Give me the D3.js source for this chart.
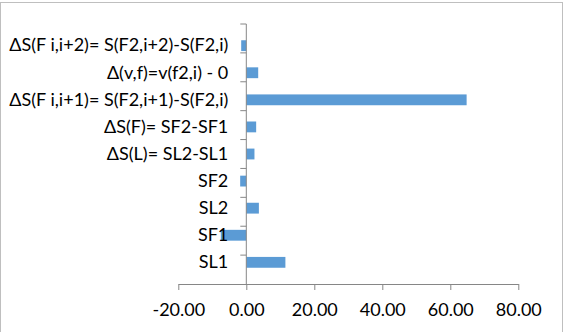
<!DOCTYPE html>
<html><head>
<meta charset="utf-8">
<script src="https://cdnjs.cloudflare.com/ajax/libs/d3/7.8.5/d3.min.js"></script>
<style>
  body { margin: 0; background: #fff; }
  .axis text { font-family: Lato, "Open Sans", sans-serif; font-size: 18px; fill: #000; }
  .axis path, .axis line { stroke: #868686; }
</style>
</head>
<body>
<svg width="568" height="332"></svg>
<script>
// categories bottom -> top, as in the chart
let categories = ["SL1", "SF1", "SL2", "SF2", "ΔS(L)= SL2-SL1", "ΔS(F)= SF2-SF1",
  "ΔS(F i,i+1)= S(F2,i+1)-S(F2,i)", "Δ(v,f)=v(f2,i) - 0", "ΔS(F i,i+2)= S(F2,i+2)-S(F2,i)"];
let values = [11.5, -7.5, 3.7, -1.8, 2.4, 2.9, 64.8, 3.5, -1.5];
let xTicks = [-20, 0, 20, 40, 60, 80];

let svg = d3.select("svg");

// chart border
svg.append("rect")
  .attr("x", 0.5).attr("y", 2.5)
  .attr("width", 562).attr("height", 340)
  .style("fill", "none").style("stroke", "#bfbfbf");

let x = d3.scaleLinear().domain([-20, 80]).range([178.3, 518.3]);
let y = d3.scaleBand().domain(categories.slice().reverse()).range([24, 284]).padding(0.6);

// bars
svg.selectAll(".bar").data(values).enter().append("rect")
  .attr("class", "bar")
  .attr("x", d => x(Math.min(0, d)))
  .attr("width", d => Math.abs(x(d) - x(0)))
  .attr("y", (d, i) => y(categories[i]))
  .attr("height", y.bandwidth())
  .style("fill", "#5b9bd5");

// x axis
let fmt = d => d.toFixed(2);
let xAxis = svg.append("g").attr("class", "axis")
  .attr("transform", "translate(0,284)")
  .call(d3.axisBottom(x).tickValues(xTicks).tickFormat(fmt).tickSize(6).tickSizeOuter(0));
xAxis.selectAll("text").attr("dy", "1.29em");

// y axis at zero
let yAxis = svg.append("g").attr("class", "axis")
  .attr("transform", "translate(" + x(0) + ",0)")
  .call(d3.axisLeft(y).tickSize(0).tickPadding(18));
yAxis.select(".domain").remove();
yAxis.append("line").attr("x1", 0).attr("x2", 0).attr("y1", 24).attr("y2", 284)
  .style("stroke", "#868686");

// category separators
let step = 260 / categories.length;
for (let i = 0; i < categories.length; i++) {
  yAxis.append("line")
    .attr("x1", -6).attr("x2", 0)
    .attr("y1", 24 + i * step).attr("y2", 24 + i * step)
    .style("stroke", "#868686");
}
</script>
</body>
</html>
